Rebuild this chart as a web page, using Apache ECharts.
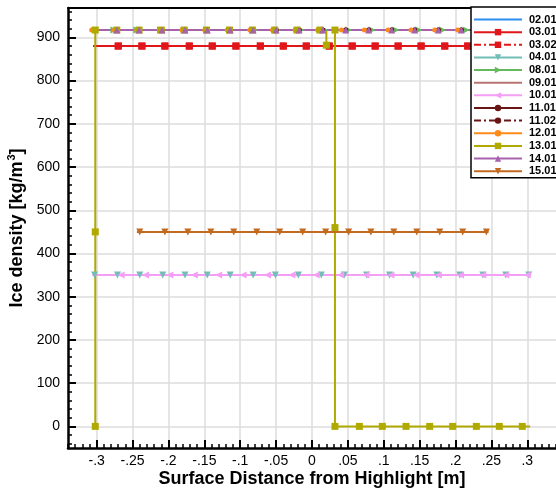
<!DOCTYPE html>
<html>
<head>
<meta charset="utf-8">
<script src="https://cdn.jsdelivr.net/npm/echarts@6/dist/echarts.min.js"></script>
<style>
  html, body { margin: 0; padding: 0; background: #fff; }
  #chart { width: 556px; height: 489px; }
</style>
</head>
<body>
<div id="chart"></div>
<script>
// Tick positions and labels
const xTickValues = [-0.3, -0.25, -0.2, -0.15, -0.1, -0.05, 0, 0.05, 0.1, 0.15, 0.2, 0.25, 0.3];
const xTickLabels = ['-.3', '-.25', '-.2', '-.15', '-.1', '-.05', '0', '.05', '.1', '.15', '.2', '.25', '.3'];
const yTickValues = [0, 100, 200, 300, 400, 500, 600, 700, 800, 900];

// Density profiles: [surface distance (m), ice density (kg/m3)]
const s0201 = [[-0.305, 917], [0.345, 917]];
const s0301 = [[-0.305, 880], [-0.270, 880], [-0.237, 880], [-0.205, 880], [-0.171, 880], [-0.139, 880],
  [-0.106, 880], [-0.072, 880], [-0.040, 880], [-0.008, 880], [0.024, 880], [0.056, 880], [0.088, 880],
  [0.120, 880], [0.152, 880], [0.185, 880], [0.217, 880], [0.249, 880], [0.282, 880], [0.314, 880], [0.345, 880]];
const s0302 = [[-0.305, 880], [-0.270, 880], [-0.237, 880], [-0.205, 880], [-0.171, 880], [-0.139, 880],
  [-0.106, 880], [-0.072, 880], [-0.040, 880], [-0.008, 880], [0.024, 880], [0.056, 880], [0.088, 880],
  [0.120, 880], [0.152, 880], [0.185, 880], [0.217, 880], [0.249, 880], [0.282, 880], [0.314, 880], [0.345, 880]];
const s0401 = [[-0.303, 350], [-0.271, 350], [-0.240, 350], [-0.208, 350], [-0.177, 350], [-0.146, 350],
  [-0.114, 350], [-0.082, 350], [-0.051, 350], [-0.019, 350], [0.013, 350], [0.045, 350], [0.076, 350],
  [0.108, 350], [0.141, 350], [0.174, 350], [0.206, 350], [0.238, 350], [0.270, 350], [0.302, 350]];
const s0801 = [[-0.308, 917], [-0.276, 917], [-0.244, 917], [-0.211, 917], [-0.178, 917], [-0.146, 917],
  [-0.113, 917], [-0.080, 917], [-0.048, 917], [-0.015, 917], [0.018, 917], [0.051, 917], [0.084, 917],
  [0.117, 917], [0.149, 917], [0.182, 917], [0.215, 917], [0.247, 917], [0.280, 917], [0.313, 917], [0.345, 917]];
const s0901 = [[-0.305, 917], [0.345, 917]];
const s1001 = [[-0.306, 350], [-0.266, 350], [-0.232, 350], [-0.198, 350], [-0.164, 350], [-0.130, 350],
  [-0.096, 350], [-0.062, 350], [-0.028, 350], [0.006, 350], [0.040, 350], [0.075, 350], [0.110, 350],
  [0.145, 350], [0.176, 350], [0.207, 350], [0.238, 350], [0.270, 350], [0.300, 350], [0.305, 350]];
const s1101 = [[-0.307, 917], [-0.272, 917], [-0.241, 917], [-0.209, 917], [-0.177, 917], [-0.146, 917],
  [-0.114, 917], [-0.082, 917], [-0.050, 917], [-0.018, 917], [0.015, 917], [0.047, 917], [0.079, 917],
  [0.111, 917], [0.143, 917], [0.176, 917], [0.208, 917], [0.240, 917], [0.272, 917], [0.304, 917], [0.345, 917]];
const s1102 = [[-0.307, 917], [-0.272, 917], [-0.241, 917], [-0.209, 917], [-0.177, 917], [-0.146, 917],
  [-0.114, 917], [-0.082, 917], [-0.050, 917], [-0.018, 917], [0.015, 917], [0.047, 917], [0.079, 917],
  [0.111, 917], [0.143, 917], [0.176, 917], [0.208, 917], [0.240, 917], [0.272, 917], [0.304, 917], [0.345, 917]];
const s1201 = [[-0.307, 917], [-0.2755, 917], [-0.244, 917], [-0.2125, 917], [-0.181, 917], [-0.1495, 917],
  [-0.118, 917], [-0.0865, 917], [-0.055, 917], [-0.0235, 917], [0.008, 917], [0.041, 917], [0.073, 917],
  [0.106, 917], [0.138, 917], [0.171, 917], [0.203, 917], [0.235, 917], [0.267, 917], [0.300, 917],
  [0.332, 917], [0.345, 917]];
const s1301 = [[-0.302, 0], [-0.302, 450], [-0.302, 917], [-0.272, 917], [-0.241, 917], [-0.210, 917],
  [-0.178, 917], [-0.147, 917], [-0.115, 917], [-0.083, 917], [-0.052, 917], [-0.021, 917], [0.011, 917],
  [0.020, 917], [0.020, 882], [0.020, 917], [0.032, 917], [0.032, 460], [0.032, 0], [0.066, 0], [0.098, 0],
  [0.131, 0], [0.164, 0], [0.196, 0], [0.229, 0], [0.261, 0], [0.293, 0], [0.304, 0]];
const s1401 = [[-0.307, 917], [-0.272, 917], [-0.241, 917], [-0.209, 917], [-0.177, 917], [-0.146, 917],
  [-0.114, 917], [-0.082, 917], [-0.050, 917], [-0.018, 917], [0.015, 917], [0.047, 917], [0.079, 917],
  [0.111, 917], [0.143, 917], [0.176, 917], [0.208, 917], [0.240, 917], [0.272, 917], [0.304, 917],
  [0.336, 917], [0.345, 917]];
const s1501 = [[-0.244, 450], [-0.240, 450], [-0.205, 450], [-0.173, 450], [-0.141, 450], [-0.109, 450],
  [-0.077, 450], [-0.045, 450], [-0.013, 450], [0.019, 450], [0.051, 450], [0.082, 450], [0.114, 450],
  [0.146, 450], [0.178, 450], [0.210, 450], [0.243, 450], [0.246, 450]];

// Symbol shapes
const SQUARE = 'rect';
const TRI_UP = 'path://M5,0L10,9L0,9Z';
const TRI_DOWN = 'path://M0,0L10,0L5,9Z';
const TRI_LEFT = 'path://M9,0L9,10L0,5Z';
const TRI_RIGHT = 'path://M0,0L0,10L9,5Z';
const PLAIN_LINE = 'path://M0,0L48,0L48,2L0,2Z';
const DASH_DOT = [7, 3, 2, 3];

// Drawing order (later entries sit on top) with line/marker styling.
// `bare` lists vertices drawn without a marker ('ends' = first and last).
const profiles = [
  { name: '02.01', data: s0201, color: '#2b8ff0', symbol: 'none' },
  { name: '03.01', data: s0301, color: '#e0161b', symbol: SQUARE, size: 7, bare: 'ends' },
  { name: '03.02', data: s0302, color: '#e0161b', symbol: SQUARE, size: 7, bare: 'ends', dash: DASH_DOT },
  { name: '04.01', data: s0401, color: '#72bdb8', symbol: TRI_DOWN, size: 7 },
  { name: '08.01', data: s0801, color: '#63b95c', symbol: TRI_RIGHT, size: 7, bare: 'ends' },
  { name: '09.01', data: s0901, color: '#b97373', symbol: 'none' },
  { name: '10.01', data: s1001, color: '#f59ef5', symbol: TRI_LEFT, size: 7, bare: 'ends' },
  { name: '11.01', data: s1101, color: '#6a1515', symbol: 'circle', size: 5, bare: 'ends' },
  { name: '11.02', data: s1102, color: '#6a1515', symbol: 'circle', size: 5, bare: 'ends', dash: DASH_DOT },
  { name: '12.01', data: s1201, color: '#ff8a1c', symbol: 'circle', size: 5, bare: [21] },
  { name: '13.01', data: s1301, color: '#b0aa00', symbol: SQUARE, size: 7, bare: [13, 15, 27] },
  { name: '14.01', data: s1401, color: '#a862ac', symbol: TRI_UP, size: 7, bare: 'ends' },
  { name: '15.01', data: s1501, color: '#c26a1f', symbol: TRI_DOWN, size: 7, bare: 'ends' }
];

const FONT = '"Liberation Sans", Arial, Helvetica, sans-serif';
const X_MIN = -0.34, X_MAX = 0.34, Y_MIN = -50, Y_MAX = 968;

// minor tick positions between the labelled ticks
const xMinor = [];
for (let i = -34; i <= 34; i++) if (i % 5 !== 0) xMinor.push(i / 100);
const yMinor = [];
for (let v = -40; v <= 960; v += 20) if (v % 100 !== 0) yMinor.push(v);

function isBare(p, i) {
  if (!p.bare) return false;
  if (p.bare === 'ends') return i === 0 || i === p.data.length - 1;
  return p.bare.indexOf(i) >= 0;
}

const series = profiles.map(p => ({
  type: 'line',
  name: p.name,
  xAxisIndex: 0,
  yAxisIndex: 0,
  data: p.data.map((d, i) => isBare(p, i) ? { value: d, symbol: 'none' } : d),
  symbol: p.symbol,
  symbolSize: p.size || 6,
  showAllSymbol: true,
  color: p.color,
  lineStyle: { color: p.color, width: 2, type: p.dash || 'solid' },
  itemStyle: { color: p.color },
  animation: false,
  emphasis: { disabled: true }
}));

// legend entries: plain lines get a bar icon, the rest show line + marker
const legendData = profiles.map(p => p.symbol === 'none' ? { name: p.name, icon: PLAIN_LINE } : { name: p.name });

const chart = echarts.init(document.getElementById('chart'), null, { renderer: 'canvas' });

function xLabel(v) {
  for (let i = 0; i < xTickValues.length; i++) {
    if (Math.abs(v - xTickValues[i]) < 1e-9) return xTickLabels[i];
  }
  return '';
}

chart.setOption({
  animation: false,
  backgroundColor: '#fff',
  textStyle: { fontFamily: FONT },
  grid: { left: 68, top: 8, right: 0, bottom: 41, containLabel: false, outerBoundsMode: 'none' },
  legend: {
    orient: 'vertical',
    left: 471,
    top: 7,
    padding: [7, 4, 1, 2],
    itemWidth: 48,
    itemHeight: 8,
    itemGap: 1.64,
    symbolKeepAspect: true,
    backgroundColor: '#fff',
    borderColor: '#000',
    borderWidth: 1.5,
    borderRadius: 0,
    textStyle: { color: '#000', fontSize: 11, fontWeight: 'bold', fontFamily: FONT, padding: [0, 0, 0, 2] },
    data: legendData
  },
  xAxis: [
    {
      type: 'value', min: X_MIN, max: X_MAX, splitNumber: 13, position: 'bottom',
      axisLine: { show: true, onZero: false, lineStyle: { color: '#000', width: 2.5 } },
      axisTick: { show: true, inside: true, length: 8, customValues: xTickValues, lineStyle: { color: '#000', width: 2 } },
      axisLabel: { customValues: xTickValues, formatter: xLabel, color: '#000', fontSize: 14, fontFamily: FONT, margin: 6 },
      splitLine: { show: true, lineStyle: { color: '#dcdcdc', width: 1.5 } },
      name: 'Surface Distance from Highlight [m]',
      nameLocation: 'middle',
      nameGap: 22,
      nameMoveOverlap: false,
      nameTextStyle: { color: '#000', fontSize: 18, fontWeight: 'bold', fontFamily: FONT }
    },
    {
      type: 'value', min: X_MIN, max: X_MAX, position: 'bottom',
      axisLine: { show: false, onZero: false },
      axisTick: { show: true, inside: true, length: 4, customValues: xMinor, lineStyle: { color: '#000', width: 1.5 } },
      axisLabel: { show: false },
      splitLine: { show: false }
    },
    {
      type: 'value', min: X_MIN, max: X_MAX, position: 'top',
      axisLine: { show: true, onZero: false, lineStyle: { color: '#000', width: 2 } },
      axisTick: { show: false },
      axisLabel: { show: false },
      splitLine: { show: false }
    }
  ],
  yAxis: [
    {
      type: 'value', min: Y_MIN, max: Y_MAX, splitNumber: 10, position: 'left',
      axisLine: { show: true, onZero: false, lineStyle: { color: '#000', width: 2.5 } },
      axisTick: { show: true, inside: true, length: 8, customValues: yTickValues, lineStyle: { color: '#000', width: 2 } },
      axisLabel: { customValues: yTickValues, color: '#000', fontSize: 14, fontFamily: FONT, margin: 8 },
      splitLine: { show: true, lineStyle: { color: '#dcdcdc', width: 1.5 } },
      name: '{t|Ice density [kg/m}{s|3}{t|]}',
      nameLocation: 'middle',
      nameGap: 42,
      nameMoveOverlap: false,
      nameTextStyle: {
        color: '#000', fontFamily: FONT, fontWeight: 'bold',
        rich: {
          t: { fontSize: 18, fontWeight: 'bold', fontFamily: FONT, color: '#000', lineHeight: 20, verticalAlign: 'bottom' },
          s: { fontSize: 11, fontWeight: 'bold', fontFamily: FONT, color: '#000', lineHeight: 20, verticalAlign: 'top', padding: [0, 0, 8, 1] }
        }
      }
    },
    {
      type: 'value', min: Y_MIN, max: Y_MAX, position: 'left',
      axisLine: { show: false, onZero: false },
      axisTick: { show: true, inside: true, length: 4, customValues: yMinor, lineStyle: { color: '#000', width: 1.5 } },
      axisLabel: { show: false },
      splitLine: { show: false }
    }
  ],
  series: series
});
</script>
</body>
</html>
